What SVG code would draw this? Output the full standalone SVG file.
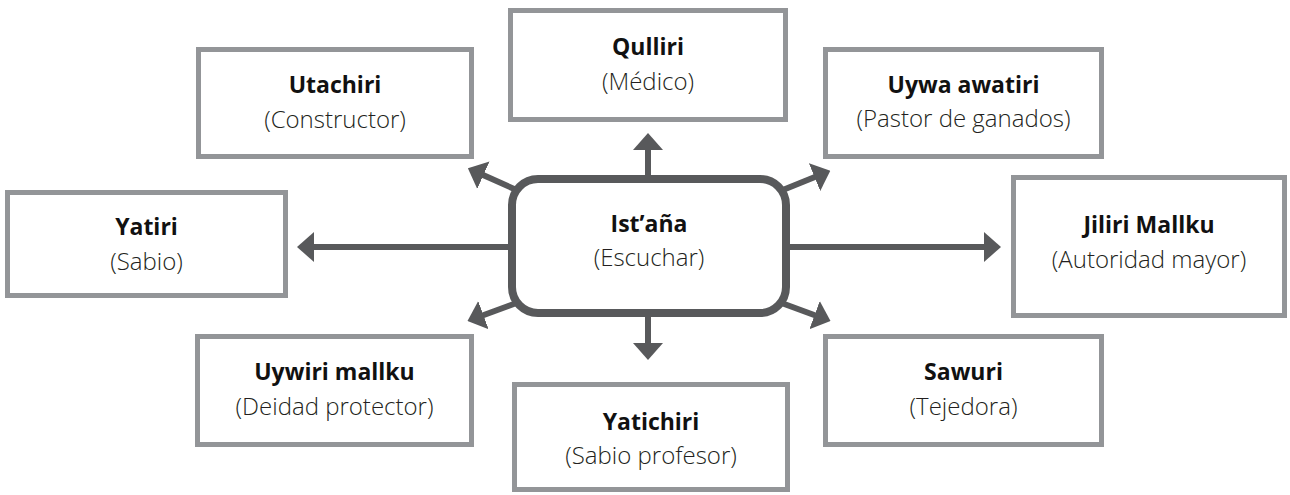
<svg xmlns="http://www.w3.org/2000/svg" width="1290" height="495" viewBox="0 0 1290 495">
<style>
.box{fill:#ffffff;stroke:#939598;stroke-width:5}
.center{fill:#ffffff;stroke:#58595b;stroke-width:8}
.t{font-family:"Open Sans","Noto Sans","Liberation Sans",sans-serif;fill:#1a1a1a;text-anchor:middle}
.b{font-weight:700;font-size:23px;fill:#111111}
.l{font-weight:300;font-size:24px;fill:#231f20}
.con line{stroke:#58595b;stroke-width:6;fill:none}
</style>
<defs>
<marker id="ah" markerUnits="userSpaceOnUse" markerWidth="17" markerHeight="30" refX="1" refY="15" orient="auto" viewBox="0 0 17 30">
<path d="M0,0 L17,15 L0,30 z" fill="#58595b"/>
</marker>
</defs>
<g id="connectors" class="con">
<line x1="648" y1="200" x2="648" y2="149" marker-end="url(#ah)"/>
<line x1="648" y1="290" x2="648" y2="344" marker-end="url(#ah)"/>
<line x1="540" y1="247" x2="313" y2="247" marker-end="url(#ah)"/>
<line x1="758" y1="247" x2="985" y2="247" marker-end="url(#ah)"/>
<line x1="530" y1="196" x2="482.5" y2="174.8" marker-end="url(#ah)"/>
<line x1="530" y1="298" x2="482.5" y2="315.5" marker-end="url(#ah)"/>
<line x1="768" y1="196" x2="815.5" y2="176.8" marker-end="url(#ah)"/>
<line x1="768" y1="298" x2="815.5" y2="315.5" marker-end="url(#ah)"/>
</g>
<g id="node-istana">
<rect class="center" x="512" y="179" width="274" height="134" rx="26"/>
<text class="t b" x="649" y="232">Ist’aña</text>
<text class="t l" x="649" y="266">(Escuchar)</text>
</g>
<g id="node-utachiri">
<rect class="box" x="198.5" y="49.5" width="273" height="107"/>
<text class="t b" x="335" y="93">Utachiri</text>
<text class="t l" x="335" y="128">(Constructor)</text>
</g>
<g id="node-qulliri">
<rect class="box" x="510.5" y="10.5" width="275" height="109"/>
<text class="t b" x="648" y="55">Qulliri</text>
<text class="t l" x="648" y="90">(Médico)</text>
</g>
<g id="node-uywa-awatiri">
<rect class="box" x="825.5" y="49.5" width="276" height="107"/>
<text class="t b" x="963.5" y="93">Uywa awatiri</text>
<text class="t l" x="963.5" y="127">(Pastor de ganados)</text>
</g>
<g id="node-yatiri">
<rect class="box" x="7.5" y="192.5" width="278" height="103"/>
<text class="t b" x="146.5" y="235">Yatiri</text>
<text class="t l" x="146.5" y="270">(Sabio)</text>
</g>
<g id="node-jiliri-mallku">
<rect class="box" x="1013.5" y="177.5" width="271" height="138"/>
<text class="t b" x="1149" y="233">Jiliri Mallku</text>
<text class="t l" x="1149" y="268">(Autoridad mayor)</text>
</g>
<g id="node-uywiri-mallku">
<rect class="box" x="197.5" y="336.5" width="274" height="108"/>
<text class="t b" x="334.5" y="380">Uywiri mallku</text>
<text class="t l" x="334.5" y="415">(Deidad protector)</text>
</g>
<g id="node-yatichiri">
<rect class="box" x="514.5" y="384.5" width="273" height="105"/>
<text class="t b" x="651" y="430">Yatichiri</text>
<text class="t l" x="651" y="464">(Sabio profesor)</text>
</g>
<g id="node-sawuri">
<rect class="box" x="825.5" y="336.5" width="276" height="108"/>
<text class="t b" x="963.5" y="380">Sawuri</text>
<text class="t l" x="963.5" y="415">(Tejedora)</text>
</g>
</svg>
